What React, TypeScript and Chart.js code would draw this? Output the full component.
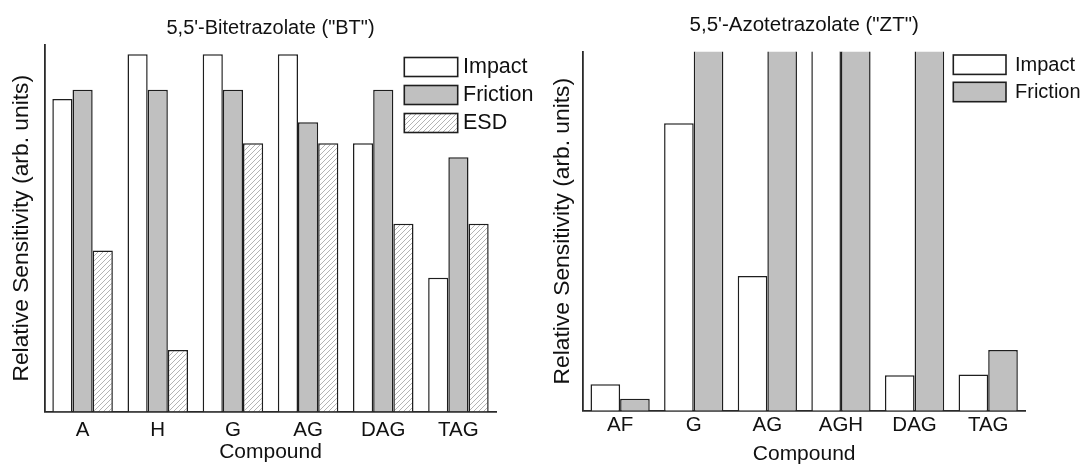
import { useEffect, useRef } from 'react';
import { Chart, registerables } from 'chart.js';

Chart.register(...registerables);

// ---------- data ----------
const btCategories = ['A', 'H', 'G', 'AG', 'DAG', 'TAG'];
const btImpact = [8.53, 9.75, 9.75, 9.75, 7.32, 3.65];
const btFriction = [8.78, 8.78, 8.78, 7.89, 8.78, 6.94];
const btESD = [4.39, 1.68, 7.32, 7.32, 5.12, 5.12];

const ztCategories = ['AF', 'G', 'AG', 'AGH', 'DAG', 'TAG'];
// values above the axis maximum (10) run off the top of the plot
const ztImpact = [0.74, 8.01, 3.75, 12, 0.99, 1.01];
const ztFriction = [0.33, 12, 12, 12, 12, 1.69];

const seriesNames = ['Impact', 'Friction', 'ESD'];

const W = 541;
const H = 465;
const FONT = "'Liberation Sans', Arial, Helvetica, sans-serif";
const TEXT = '#111';
const EDGE = '#1e1e1e';
const GRAY = '#c0c0c0';

function makeHatch(): CanvasPattern | string {
  const c = document.createElement('canvas');
  c.width = 5;
  c.height = 5;
  const g = c.getContext('2d');
  if (!g) return '#eee';
  g.fillStyle = '#ffffff';
  g.fillRect(0, 0, 5, 5);
  g.strokeStyle = '#b4b4b4';
  g.lineWidth = 1;
  g.beginPath();
  g.moveTo(0, 5);
  g.lineTo(5, 0);
  g.moveTo(-1, 1);
  g.lineTo(1, -1);
  g.moveTo(4, 6);
  g.lineTo(6, 4);
  g.stroke();
  const p = g.createPattern(c, 'repeat');
  return p || '#eee';
}

interface PanelSpec {
  title: string;
  titleSize: number;
  titlePad: { top: number; bottom: number };
  categories: string[];
  series: { label: string; data: number[]; fill: 'white' | 'gray' | 'hatch' }[];
  yWidth: number;
  xHeight: number;
  padRight: number;
  tickPad: number;
  xTitlePad: number;
  legend: { x: number; w: number; h: number; tops: number[]; textX: number; size: number };
}

const leftSpec: PanelSpec = {
  title: '5,5\'-Bitetrazolate ("BT")',
  titleSize: 20,
  titlePad: { top: 16, bottom: 5 },
  categories: btCategories,
  series: [
    { label: seriesNames[0], data: btImpact, fill: 'white' },
    { label: seriesNames[1], data: btFriction, fill: 'gray' },
    { label: seriesNames[2], data: btESD, fill: 'hatch' },
  ],
  yWidth: 45,
  xHeight: 53.5,
  padRight: 45,
  tickPad: 6.2,
  xTitlePad: 2.5,
  legend: { x: 404.3, w: 53.4, h: 19, tops: [57.5, 85.5, 113.5], textX: 463, size: 21.5 },
};

const rightSpec: PanelSpec = {
  title: '5,5\'-Azotetrazolate ("ZT")',
  titleSize: 20.5,
  titlePad: { top: 13.2, bottom: 13.9 },
  categories: ztCategories,
  series: [
    { label: seriesNames[0], data: ztImpact, fill: 'white' },
    { label: seriesNames[1], data: ztFriction, fill: 'gray' },
  ],
  yWidth: 42.3,
  xHeight: 54.3,
  padRight: 57,
  tickPad: 2.5,
  xTitlePad: 0,
  legend: { x: 412.3, w: 52.7, h: 19.4, tops: [55, 82.3], textX: 474, size: 20 },
};

function Panel({ spec, left }: { spec: PanelSpec; left: number }) {
  const ref = useRef<HTMLCanvasElement | null>(null);

  useEffect(() => {
    const canvas = ref.current;
    if (!canvas) return;
    const hatch = makeHatch();
    const fillOf = (f: string) => (f === 'white' ? '#ffffff' : f === 'gray' ? GRAY : hatch);

    const legendPlugin = {
      id: 'boxLegend',
      afterDraw(chart: any) {
        const ctx = chart.ctx as CanvasRenderingContext2D;
        const L = spec.legend;
        ctx.save();
        chart.data.datasets.forEach((ds: any, i: number) => {
          const y = L.tops[i];
          ctx.fillStyle = ds.backgroundColor;
          ctx.fillRect(L.x, y, L.w, L.h);
          ctx.strokeStyle = EDGE;
          ctx.lineWidth = 1.6;
          ctx.strokeRect(L.x, y, L.w, L.h);
          ctx.fillStyle = TEXT;
          ctx.font = `${L.size}px ${FONT}`;
          ctx.textBaseline = 'middle';
          ctx.textAlign = 'left';
          ctx.fillText(ds.label, L.textX, y + L.h / 2 + 0.5);
        });
        ctx.restore();
      },
    };

    const chart = new Chart(canvas, {
      type: 'bar',
      data: {
        labels: spec.categories,
        datasets: spec.series.map((s) => ({
          label: s.label,
          data: s.data,
          backgroundColor: fillOf(s.fill) as any,
          borderColor: EDGE,
          borderWidth: 1.5,
          borderSkipped: 'start',
          barPercentage: 1,
          categoryPercentage: 0.805,
          clip: 0,
        })),
      },
      options: {
        responsive: false,
        animation: false,
        devicePixelRatio: 1,
        layout: { padding: { left: 0, right: spec.padRight, top: 0, bottom: 0 } },
        plugins: {
          legend: { display: false },
          tooltip: { enabled: false },
          title: {
            display: true,
            text: spec.title,
            color: TEXT,
            fullSize: false,
            font: { family: FONT, size: spec.titleSize, weight: 'normal', lineHeight: 1.2 },
            padding: spec.titlePad,
          },
        },
        scales: {
          x: {
            type: 'category',
            offset: true,
            grid: { display: false, drawTicks: false },
            border: { display: true, color: '#2a2a2a', width: 1.8 },
            ticks: {
              color: TEXT,
              padding: spec.tickPad,
              font: { family: FONT, size: 20.5, lineHeight: 1.2 },
              maxRotation: 0,
              autoSkip: false,
            },
            title: {
              display: true,
              text: 'Compound',
              color: TEXT,
              font: { family: FONT, size: 21, lineHeight: 1 },
              padding: { top: 0, bottom: spec.xTitlePad },
            },
            afterFit: (s: any) => {
              s.height = spec.xHeight;
            },
          },
          y: {
            min: 0,
            max: 10,
            grid: { display: false, drawTicks: false },
            border: { display: true, color: '#2a2a2a', width: 1.8 },
            ticks: { display: false },
            title: {
              display: true,
              text: 'Relative Sensitivity (arb. units)',
              color: TEXT,
              font: { family: FONT, size: 22.8, lineHeight: 1.2 },
              padding: { top: 8.3, bottom: 0 },
            },
            afterFit: (s: any) => {
              s.width = spec.yWidth;
            },
          },
        },
      },
      plugins: [legendPlugin],
    } as any);

    return () => chart.destroy();
  }, [spec]);

  return (
    <canvas
      ref={ref}
      width={W}
      height={H}
      style={{ position: 'absolute', left, top: 0, width: W, height: H, display: 'block' }}
    />
  );
}

export default function App() {
  return (
    <div
      style={{
        position: 'absolute',
        left: 0,
        top: 0,
        width: 1082,
        height: 465,
        background: '#ffffff',
        overflow: 'hidden',
      }}
    >
      <Panel spec={leftSpec} left={0} />
      <Panel spec={rightSpec} left={541} />
    </div>
  );
}
